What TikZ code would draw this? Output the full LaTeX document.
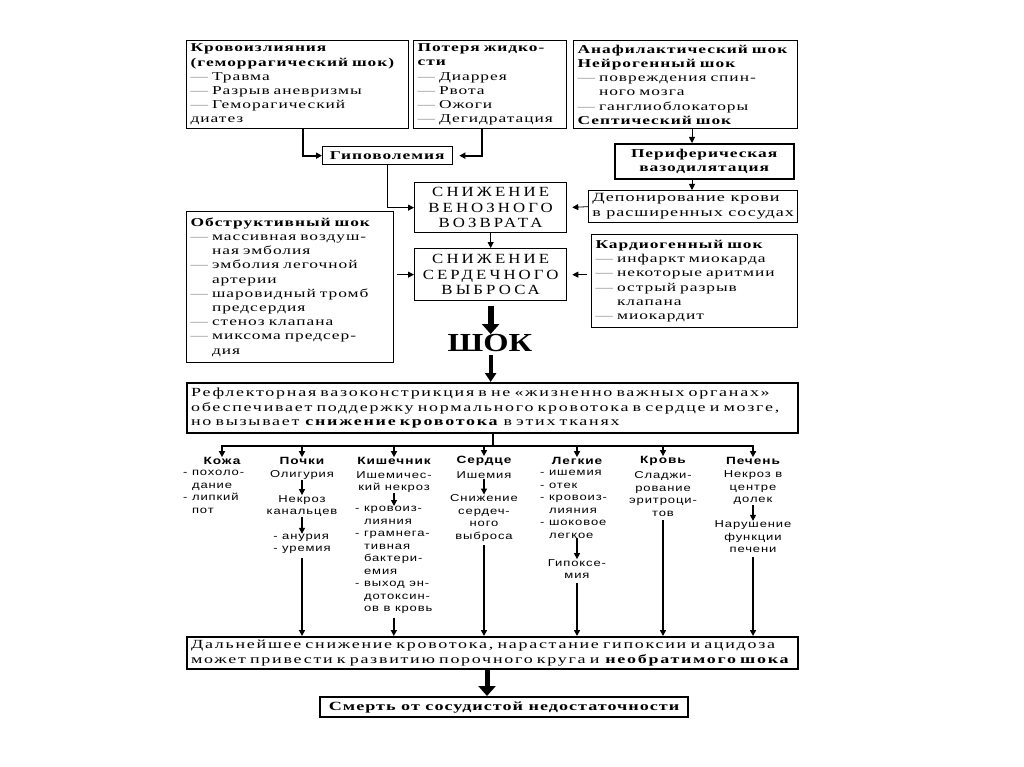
\documentclass[tikz,border=0pt]{standalone}
\usepackage{fontspec}
\setmainfont{Liberation Serif}
\newfontfamily\topf[FakeStretch=1.45,LetterSpace=8]{Liberation Serif}
\newfontfamily\capf[FakeStretch=1.2,LetterSpace=22]{Liberation Serif}
\newfontfamily\bigf[FakeStretch=1.25]{Liberation Serif}
\newfontfamily\reff[FakeStretch=1.45,LetterSpace=14]{Liberation Serif}
\newfontfamily\orgf[FakeStretch=1.3,LetterSpace=9]{Liberation Sans}
\usetikzlibrary{positioning,arrows.meta}

\newcommand{\dsh}{{\color{gray}—}\ }
\newcommand{\ind}{\phantom{— }}
\newcommand{\ld}{\phantom{- }}

\begin{document}
\begin{tikzpicture}[x=1pt,y=-1pt,
  box/.style={draw,line width=1.3pt,inner xsep=4pt,inner ysep=1pt,anchor=north west},
  topbox/.style={box,align=left,font=\topf\fontsize{12}{14.2}\selectfont},
  capbox/.style={box,align=center,font=\capf\fontsize{14}{15.5}\selectfont},
  arr/.style={-{Triangle[length=6pt,width=6pt]},line width=1.8pt},
  thin/.style={-{Triangle[length=6pt,width=6pt]},line width=0.8pt},
  fat/.style={-{Triangle[length=10pt,width=17pt]},line width=6pt},
  org/.style={font=\orgf\fontsize{10}{12.5}\selectfont,align=center,inner sep=0pt},
  orghead/.style={org,font=\orgf\bfseries\fontsize{10.5}{12.5}\selectfont}]

\useasboundingbox (0,0) rectangle (1024,767);

% causes
\node[topbox,text width=214pt,minimum height=88pt] (krov) at (186,40)
  {\textbf{Кровоизлияния}\\ \textbf{(геморрагический шок)}\\ \dsh Травма\\ \dsh Разрыв аневризмы\\ \dsh Геморагический\\ диатез};
\node[topbox,text width=145pt,minimum height=88pt] (poter) at (413,40)
  {\textbf{Потеря жидко-}\\ \textbf{сти}\\ \dsh Диаррея\\ \dsh Рвота\\ \dsh Ожоги\\ \dsh Дегидратация};
\node[topbox,text width=216pt,minimum height=88pt] (ana) at (573,40)
  {\textbf{Анафилактический шок}\\ \textbf{Нейрогенный шок}\\ \dsh повреждения спин-\\ \ind ного мозга\\ \dsh ганглиоблокаторы\\ \textbf{Септический шок}};

\node[topbox,minimum width=130pt,minimum height=18pt,align=center,inner sep=0pt] (gipo) at (322,146) {\textbf{Гиповолемия}};
\node[topbox,line width=2.2pt,minimum width=179pt,minimum height=35pt,align=center] (peri) at (614,143)
  {\textbf{Периферическая}\\ \textbf{вазодилятация}};
\node[topbox,inner xsep=2pt,minimum width=209pt,minimum height=32pt,align=left,
  font=\topf\fontsize{12.5}{15}\selectfont] (depo) at (588,190)
  {Депонирование крови\\ в расширенных сосудах};

\node[capbox,minimum width=152pt,minimum height=50pt] (vvb) at (414,182) {СНИЖЕНИЕ\\ ВЕНОЗНОГО\\ ВОЗВРАТА};
\node[capbox,minimum width=152pt,minimum height=52pt] (svb) at (414,248) {СНИЖЕНИЕ\\ СЕРДЕЧНОГО\\ ВЫБРОСА};

\node[topbox,text width=199pt,minimum height=151pt] (obst) at (186,211)
  {\textbf{Обструктивный шок}\\ \dsh массивная воздуш-\\ \ind ная эмболия\\ \dsh эмболия легочной\\ \ind артерии\\ \dsh шаровидный тромб\\ \ind предсердия\\ \dsh стеноз клапана\\ \dsh миксома предсер-\\ \ind дия};
\node[topbox,text width=198pt,minimum height=93pt] (kard) at (591,234)
  {\textbf{Кардиогенный шок}\\ \dsh инфаркт миокарда\\ \dsh некоторые аритмии\\ \dsh острый разрыв\\ \ind клапана\\ \dsh миокардит};

\draw[arr] ([xshift=117pt]krov.south west) |- (gipo.west);
\draw[arr,shorten >=6pt] ([xshift=69pt]poter.south west) |- (gipo.east);
\draw[thin] ([xshift=65pt]gipo.south west) |- (vvb.west);
\draw[arr,line width=0.9pt] ([xshift=119pt]ana.south west) -- ([xshift=78pt]peri.north west);
\draw[thin] ([xshift=78pt]peri.south west) -- ([xshift=104pt]depo.north west);
\draw[thin,shorten >=5pt] (depo.west) -- (vvb.east);
\draw[thin] (vvb.south) -- (svb.north);
\draw[thin,shorten <=3pt] (obst.east |- svb.west) -- (svb.west);
\draw[thin,shorten <=4pt,shorten >=5pt] (kard.west |- svb.east) -- (svb.east);

% shock
\node[font=\bigf\bfseries\fontsize{26}{26}\selectfont,inner sep=0pt] (shok) at (490,343) {ШОК};
\draw[fat,shorten <=5pt] (svb.south) -- (svb.south |- shok.north);

\node[box,line width=2.2pt,text width=603pt,minimum height=50pt,align=left,
  font=\reff\fontsize{12.4}{14.5}\selectfont] (refl) at (186,382)
  {Рефлекторная вазоконстрикция в не «жизненно важных органах»\\
   обеспечивает поддержку нормального кровотока в сердце и мозге,\\
   но вызывает \textbf{снижение кровотока} в этих тканях};
\draw[-{Triangle[length=9pt,width=11pt]},line width=4pt,shorten <=3pt] (shok.south -| svb.south) -- (svb.south |- refl.north);

% organs
\node[orghead] (kz) at (222,461) {Кожа};
\node[orghead] (pc) at (302,461) {Почки};
\node[orghead] (ks) at (394,461) {Кишечник};
\node[orghead] (sr) at (484,461) {Сердце};
\node[orghead] (lg) at (577,461) {Легкие};
\node[orghead] (kr) at (663,461) {Кровь};
\node[orghead] (pn) at (753,461) {Печень};
\foreach \o in {kz,pc,ks,sr,lg,kr,pn}
  \draw[arr] (refl.south) -- ++(0,12) -| (\o.north);

\node[org,align=left,anchor=north west] (kz1) at (183,470) {- похоло-\\ \ld дание\\ - липкий\\ \ld пот};

\node[org] (pc1) at (302,475) {Олигурия};
\node[org] (pc2) at (302,506) {Некроз\\ канальцев};
\node[org,align=left] (pc3) at (302,544) {- анурия\\ - уремия};
\draw[arr,line width=1.2pt] (pc1) -- (pc2);
\draw[arr,line width=1.2pt] (pc2) -- (pc3);

\node[org] (ks1) at (394,482) {Ишемичес-\\ кий некроз};
\node[org,align=left,anchor=north west] (ks2) at (355,506) {- кровоиз-\\ \ld лияния\\ - грамнега-\\ \ld тивная\\ \ld бактери-\\ \ld емия\\ - выход эн-\\ \ld дотоксин-\\ \ld ов в кровь};
\draw[arr,line width=1.2pt] (ks1) -- (ks2.north -| ks1.south);

\node[org] (sr1) at (484,475) {Ишемия};
\node[org] (sr2) at (484,518) {Снижение\\ сердеч-\\ ного\\ выброса};
\draw[arr,line width=1.2pt] (sr1) -- (sr2);

\node[org,align=left,anchor=north west] (lg1) at (540,470) {- ишемия\\ - отек\\ - кровоиз-\\ \ld лияния\\ - шоковое\\ \ld легкое};
\node[org] (lg2) at (577,569) {Гипоксе-\\ мия};
\draw[arr,line width=1.2pt] (lg1.south -| lg2.north) -- (lg2);

\node[org] (kr1) at (663,494) {Сладжи-\\ рование\\ эритроци-\\ тов};

\node[org] (pn1) at (753,488) {Некроз в\\ центре\\ долек};
\node[org] (pn2) at (753,537) {Нарушение\\ функции\\ печени};
\draw[arr,line width=1.2pt] (pn1) -- (pn2);

% outcome
\node[box,line width=2.2pt,text width=603pt,minimum height=32pt,align=left,
  font=\reff\fontsize{12.4}{14.5}\selectfont] (dal) at (186,636)
  {Дальнейшее снижение кровотока, нарастание гипоксии и ацидоза\\
   может привести к развитию порочного круга и \textbf{необратимого шока}};
\foreach \c in {pc3,ks2,sr2,lg2,kr1,pn2}
  \draw[arr,line width=2.2pt,shorten <=4pt] (\c.south) -- (\c.south |- dal.north);

\node[box,line width=2.2pt,minimum width=368pt,minimum height=20pt,align=center,inner sep=0pt,
  font=\topf\bfseries\fontsize{12.5}{14}\selectfont] (smert) at (319,696) {Смерть от сосудистой недостаточности};
\draw[fat,line width=5pt] ([xshift=168pt]smert.north west |- dal.south) -- ([xshift=168pt]smert.north west);

\end{tikzpicture}
\end{document}
